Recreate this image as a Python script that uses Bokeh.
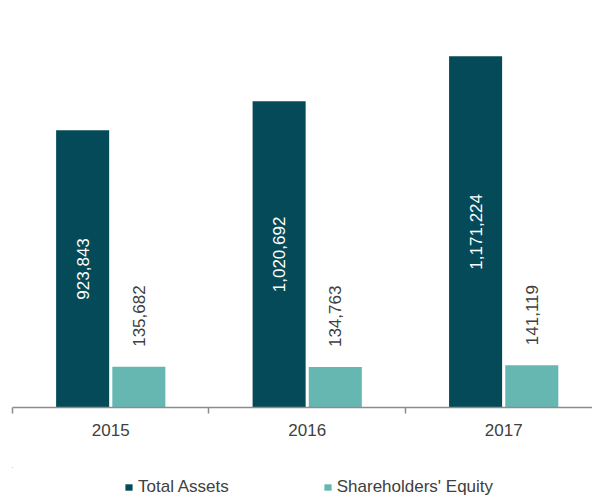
import math
from bokeh.plotting import figure
from bokeh.layouts import column
from bokeh.models import ColumnDataSource, FixedTicker, Legend, LegendItem, Range1d
from bokeh.core.properties import value
from bokeh.embed import file_html
from bokeh.resources import INLINE

years = ["2015", "2016", "2017"]
total_assets = [923843, 1020692, 1171224]
equity = [135682, 134763, 141119]
series_names = ["Total Assets", "Shareholders' Equity"]

FONT = "Liberation Sans"
FS = "17px"
DARK = "#054a59"
LIGHT = "#66b7b1"
TEXT = "#404040"
AXIS = "#8c8c8c"

idx = list(range(len(years)))
fmt = lambda v: f"{v:,}"

src_a = ColumnDataSource(dict(x=[i - 0.143 for i in idx], top=total_assets,
                              mid=[v / 2 for v in total_assets],
                              label=[fmt(v) for v in total_assets]))
src_e = ColumnDataSource(dict(x=[i + 0.143 for i in idx], top=equity,
                              label=[fmt(v) for v in equity]))

p = figure(width=592, height=467, output_backend="svg", toolbar_location=None,
           x_range=Range1d(-0.5, 2.452), y_range=Range1d(0, 1356700),
           y_axis_location=None, min_border_left=12, min_border_right=0,
           min_border_top=0, min_border_bottom=60)
p.outline_line_color = None
p.xgrid.visible = False
p.ygrid.visible = False

p.vbar(x="x", top="top", width=0.27, source=src_a, fill_color=DARK, line_color=None)
p.vbar(x="x", top="top", width=0.27, source=src_e, fill_color=LIGHT, line_color=None)

p.text(x="x", y="mid", text="label", source=src_a, angle=math.pi / 2,
       text_align="center", text_baseline="middle", text_color="white",
       text_font=value(FONT), text_font_size=FS)
p.text(x="x", y="top", text="label", source=src_e, angle=math.pi / 2,
       text_align="left", text_baseline="middle", text_color=TEXT,
       y_offset=-20, text_font=value(FONT), text_font_size=FS)

ax = p.xaxis[0]
ax.axis_label = None
ax.ticker = FixedTicker(ticks=idx, minor_ticks=[i - 0.5 for i in idx] + [len(idx) - 0.5])
ax.major_label_overrides = {i: y for i, y in zip(idx, years)}
ax.major_tick_out = 0
ax.major_tick_in = 0
ax.minor_tick_out = 6
ax.minor_tick_in = 0
ax.minor_tick_line_color = AXIS
ax.minor_tick_line_width = 1.5
ax.axis_line_color = AXIS
ax.axis_line_width = 1.5
ax.major_label_standoff = 10
ax.major_label_text_font = FONT
ax.major_label_text_font_size = FS
ax.major_label_text_color = TEXT

# legend strip (its view range is away from the data in x and y, so only the legend shows)
pl = figure(width=592, height=30, output_backend="svg", toolbar_location=None,
            x_range=Range1d(5, 6), y_range=Range1d(-3000000, -2000000),
            x_axis_location=None, y_axis_location=None,
            min_border_left=12, min_border_right=0, min_border_top=0, min_border_bottom=0)
pl.outline_line_color = None
pl.xgrid.visible = False
pl.ygrid.visible = False
la = pl.vbar(x="x", top="top", width=0.27, source=src_a, fill_color=DARK, line_color=None)
le = pl.vbar(x="x", top="top", width=0.27, source=src_e, fill_color=LIGHT, line_color=None)
legend = Legend(items=[LegendItem(label=series_names[0], renderers=[la]),
                       LegendItem(label=series_names[1], renderers=[le])],
                orientation="horizontal", location=(112, 0),
                glyph_width=9, glyph_height=8, label_standoff=5, spacing=94,
                padding=0, margin=0, border_line_color=None,
                background_fill_alpha=0,
                label_text_font=FONT, label_text_font_size=FS,
                label_text_color=TEXT, label_height=20)
pl.add_layout(legend, "center")

layout = column(p, pl, spacing=0)
open("out.html", "w").write(file_html(layout, INLINE))
